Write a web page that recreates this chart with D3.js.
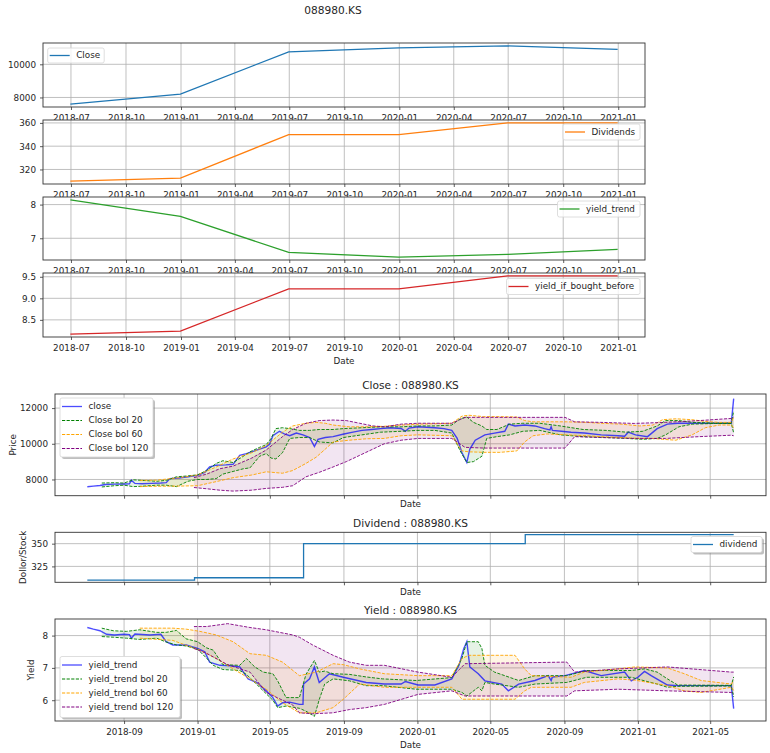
<!DOCTYPE html>
<html>
<head>
<meta charset="utf-8">
<script src="https://cdn.jsdelivr.net/npm/d3@7"></script>
<style>
  body { margin: 0; background: #fff; }
  svg text { font-family: "DejaVu Sans", sans-serif; fill: #262626; }
</style>
</head>
<body>
<div class="chart"></div>
<script>
// data
let ticker = "088980.KS";

// half-year summary (top four panels)
let summaryDates = ["2018-06-30", "2018-12-31", "2019-06-30", "2019-12-31", "2020-06-30", "2020-12-31"];
let summaryClose = [7600, 8200, 10750, 10990, 11110, 10900];
let summaryDividends = [310, 312.5, 350, 350, 360, 360];
let summaryYieldTrend = [8.14, 7.65, 6.58, 6.44, 6.52, 6.67];
let summaryYieldBefore = [8.17, 8.24, 9.22, 9.22, 9.52, 9.52];

// tick labels
let summaryCloseTicks = [8000, 10000];
let summaryDividendTicks = [320, 340, 360];
let summaryYieldTicks = [7, 8];
let summaryBeforeTicks = [8.5, 9.0, 9.5];
let closeTicks = [8000, 10000, 12000];
let dividendTicks = [325, 350];
let yieldTicks = [6, 7, 8];

// daily close (sampled)
let closeSeries = [
  ["2018-07-02",7590],["2018-07-12",7630],["2018-07-23",7660],["2018-08-01",7720],["2018-08-16",7740],
  ["2018-09-01",7750],["2018-09-10",7760],["2018-09-13",7960],["2018-09-19",7780],["2018-10-01",7760],
  ["2018-10-16",7780],["2018-11-01",7800],["2018-11-10",7820],["2018-11-16",8050],["2018-12-01",8080],
  ["2018-12-16",8150],["2019-01-01",8230],["2019-01-13",8400],["2019-01-21",8700],["2019-02-01",8800],
  ["2019-02-17",8820],["2019-03-01",8850],["2019-03-12",9350],["2019-03-23",9450],["2019-04-01",9550],
  ["2019-04-14",9700],["2019-04-25",9830],["2019-05-01",10000],["2019-05-06",10450],["2019-05-17",10700],
  ["2019-05-25",10550],["2019-06-03",10450],["2019-06-14",10600],["2019-06-25",10500],["2019-07-06",10350],
  ["2019-07-14",9850],["2019-07-20",10250],["2019-08-01",10350],["2019-08-14",10400],["2019-09-01",10550],
  ["2019-09-16",10650],["2019-10-01",10750],["2019-10-17",10800],["2019-11-01",10850],["2019-11-17",10900],
  ["2019-12-05",10860],["2019-12-12",10700],["2019-12-18",10880],["2020-01-02",10950],["2020-01-30",10900],
  ["2020-02-14",10850],["2020-02-27",10750],["2020-03-07",10300],["2020-03-15",9500],["2020-03-23",8950],
  ["2020-03-28",9700],["2020-04-06",10200],["2020-04-22",10500],["2020-05-08",10600],["2020-05-25",10700],
  ["2020-05-31",11100],["2020-06-11",11000],["2020-06-27",11050],["2020-07-14",11000],["2020-07-30",10850],
  ["2020-08-08",10780],["2020-08-10",10950],["2020-08-12",10750],["2020-08-27",10700],["2020-09-12",10650],
  ["2020-10-04",10600],["2020-11-01",10500],["2020-11-29",10450],["2020-12-10",10420],["2020-12-16",10650],
  ["2020-12-28",10500],["2021-01-17",10400],["2021-02-02",10850],["2021-02-19",11100],["2021-03-08",11150],
  ["2021-04-16",11150],["2021-06-05",11150],["2021-06-09",12530]
];

// bollinger bands of close: [date, upper, lower]
let closeBol20 = [
  ["2018-07-26",7800,7580],["2018-08-16",7820,7650],["2018-09-01",7800,7680],["2018-09-16",7980,7600],
  ["2018-10-01",7950,7620],["2018-10-25",7900,7680],["2018-11-10",7950,7680],["2018-11-27",8150,7600],
  ["2018-12-16",8200,7900],["2019-01-01",8260,8000],["2019-01-16",8500,8000],["2019-02-01",8900,8050],
  ["2019-02-12",9050,8300],["2019-03-01",8950,8450],["2019-03-18",9300,8600],["2019-03-29",9550,8650],
  ["2019-04-14",9800,9300],["2019-04-25",9950,9450],["2019-05-03",10300,9200],["2019-05-11",10850,9150],
  ["2019-05-22",10900,9500],["2019-06-03",10850,10300],["2019-06-19",10750,10350],["2019-07-06",10750,10350],
  ["2019-07-22",10800,10100],["2019-08-14",10800,10050],["2019-08-31",10850,10350],["2019-10-01",10900,10500],
  ["2019-11-01",10950,10650],["2019-12-05",10950,10700],["2020-01-02",11000,10750],["2020-01-30",11000,10750],
  ["2020-02-27",11050,10600],["2020-03-12",11400,9600],["2020-03-23",11500,8950],["2020-04-03",11200,9000],
  ["2020-04-17",11000,9300],["2020-04-25",10800,10300],["2020-05-12",10800,10400],["2020-06-02",11100,10500],
  ["2020-06-24",11150,10700],["2020-07-22",11150,10750],["2020-08-25",11000,10500],["2020-10-02",10800,10400],
  ["2020-11-09",10750,10350],["2020-12-13",10650,10300],["2021-01-09",10700,10250],["2021-02-02",11000,10300],
  ["2021-02-16",11300,10500],["2021-03-10",11300,10950],["2021-04-01",11200,11100],["2021-05-10",11160,11140],
  ["2021-06-05",11160,11140],["2021-06-09",11830,10610]
];
let closeBol60 = [
  ["2018-09-27",7950,7600],["2018-10-25",7960,7620],["2018-12-01",8100,7630],["2019-01-01",8250,7650],
  ["2019-02-01",8700,7880],["2019-03-01",9150,8100],["2019-04-01",9500,8250],["2019-04-25",9900,8430],
  ["2019-05-22",10650,8350],["2019-06-08",11000,8500],["2019-06-30",11150,8900],["2019-07-17",11200,9250],
  ["2019-08-01",11150,9700],["2019-08-14",11050,10100],["2019-09-10",10950,10200],["2019-10-08",10950,10280],
  ["2019-11-07",10980,10300],["2019-12-05",11050,10450],["2020-01-02",11100,10500],["2020-02-27",11150,10450],
  ["2020-03-15",11550,9600],["2020-03-26",11600,9550],["2020-04-20",11520,9520],["2020-05-17",11520,9520],
  ["2020-06-14",11500,9600],["2020-06-27",11300,10100],["2020-07-11",11230,10450],["2020-08-03",11230,10550],
  ["2020-09-05",11230,10500],["2020-10-08",11200,10450],["2020-10-31",11150,10400],["2020-12-04",11100,10350],
  ["2021-01-04",11000,10300],["2021-01-26",11050,10300],["2021-02-11",11350,10250],["2021-03-05",11400,10200],
  ["2021-04-01",11350,10500],["2021-04-23",11250,10900],["2021-05-16",11200,11050],["2021-06-05",11200,11050],
  ["2021-06-09",11500,10900]
];
let closeBol120 = [
  ["2018-12-26",8100,7550],["2019-01-16",8300,7480],["2019-02-07",8600,7400],["2019-03-01",8750,7350],
  ["2019-04-01",9200,7400],["2019-04-25",9650,7500],["2019-05-22",10400,7560],["2019-06-08",10800,7650],
  ["2019-06-30",11150,8150],["2019-07-22",11300,8400],["2019-08-14",11330,8700],["2019-09-05",11300,9000],
  ["2019-09-27",11150,9350],["2019-10-19",11000,9700],["2019-11-07",10950,10000],["2019-12-05",11100,10200],
  ["2020-01-02",11150,10300],["2020-02-27",11150,10300],["2020-03-20",11480,9800],["2020-04-20",11480,9760],
  ["2020-06-14",11480,9760],["2020-09-02",11480,9760],["2020-09-18",11230,10400],["2020-10-31",11200,10350],
  ["2020-12-26",11140,10300],["2021-02-16",11200,10300],["2021-04-13",11300,10400],["2021-06-05",11420,10480],
  ["2021-06-09",11500,10450]
];

// dividend steps
let dividendSteps = [["2018-07-02",310],["2018-12-27",312.5],["2019-06-26",350],["2020-06-28",360],["2021-06-09",360]];

// daily yield trend (sampled)
let yieldSeries = [
  ["2018-07-02",8.25],["2018-07-12",8.20],["2018-07-23",8.15],["2018-08-03",8.04],["2018-08-16",8.02],
  ["2018-09-01",8.04],["2018-09-10",8.03],["2018-09-13",7.92],["2018-09-19",8.05],["2018-10-14",8.02],
  ["2018-11-01",8.04],["2018-11-10",7.81],["2018-11-21",7.71],["2018-12-13",7.71],["2019-01-01",7.60],
  ["2019-01-13",7.50],["2019-01-21",7.18],["2019-02-07",7.08],["2019-03-01",7.06],["2019-03-12",7.03],
  ["2019-03-26",6.66],["2019-04-09",6.55],["2019-04-25",6.29],["2019-05-06",6.08],["2019-05-14",5.82],
  ["2019-05-22",5.92],["2019-06-03",5.94],["2019-06-19",5.87],["2019-06-25",5.87],["2019-06-26",6.50],
  ["2019-07-06",6.66],["2019-07-14",7.03],["2019-07-22",6.55],["2019-08-08",6.82],["2019-08-31",6.71],
  ["2019-10-08",6.55],["2019-11-07",6.50],["2019-12-05",6.50],["2019-12-12",6.58],["2020-01-02",6.47],
  ["2020-01-30",6.47],["2020-02-27",6.66],["2020-03-10",7.08],["2020-03-18",7.60],["2020-03-23",7.81],
  ["2020-03-28",7.03],["2020-04-11",6.82],["2020-04-22",6.60],["2020-05-20",6.50],["2020-05-31",6.29],
  ["2020-06-17",6.50],["2020-07-14",6.61],["2020-08-05",6.76],["2020-08-10",6.61],["2020-08-12",6.72],
  ["2020-09-02",6.76],["2020-09-24",6.87],["2020-10-04",6.92],["2020-11-01",6.76],["2020-12-10",6.87],
  ["2020-12-21",6.60],["2021-01-01",6.71],["2021-01-12",6.89],["2021-01-23",6.76],["2021-02-19",6.47],
  ["2021-03-08",6.45],["2021-06-05",6.45],["2021-06-09",5.74]
];

// bollinger bands of yield: [date, upper, lower]
let yieldBol20 = [
  ["2018-07-26",8.23,7.97],["2018-08-14",8.15,7.95],["2018-09-05",8.13,7.92],["2018-09-27",8.18,7.88],
  ["2018-10-25",8.10,7.92],["2018-11-10",8.10,7.80],["2018-11-27",8.16,7.71],["2018-12-13",7.90,7.68],
  ["2019-01-01",7.81,7.58],["2019-01-16",7.62,7.30],["2019-01-27",7.55,7.08],["2019-02-12",7.10,6.95],
  ["2019-03-12",7.08,6.92],["2019-03-23",7.29,6.80],["2019-04-06",7.03,6.55],["2019-04-20",6.87,6.29],
  ["2019-05-06",6.82,6.00],["2019-05-14",6.60,5.77],["2019-05-28",6.08,5.82],["2019-06-19",6.08,5.75],
  ["2019-06-30",6.80,5.66],["2019-07-14",7.23,5.50],["2019-07-22",6.87,6.02],["2019-07-31",6.90,6.50],
  ["2019-08-14",6.82,6.66],["2019-09-10",6.80,6.60],["2019-10-08",6.72,6.45],["2019-11-04",6.66,6.45],
  ["2019-12-30",6.61,6.34],["2020-02-27",6.70,6.34],["2020-03-15",7.30,6.24],["2020-03-23",7.81,6.13],
  ["2020-04-11",7.81,6.40],["2020-04-17",7.60,6.29],["2020-04-22",7.08,6.55],["2020-05-08",6.87,6.50],
  ["2020-06-17",6.61,6.40],["2020-07-14",6.76,6.50],["2020-09-05",6.76,6.55],["2020-10-08",6.92,6.71],
  ["2020-12-21",6.92,6.71],["2021-01-12",6.97,6.60],["2021-02-02",6.87,6.50],["2021-02-19",6.66,6.40],
  ["2021-03-08",6.47,6.43],["2021-06-05",6.46,6.44],["2021-06-09",6.72,6.10]
];
let yieldBol60 = [
  ["2018-09-27",8.23,7.92],["2018-11-21",8.23,7.85],["2018-12-13",8.20,7.70],["2019-01-05",8.13,7.55],
  ["2019-02-01",8.02,7.29],["2019-03-01",7.81,6.97],["2019-03-29",7.44,6.66],["2019-04-25",7.39,6.34],
  ["2019-05-22",7.18,5.92],["2019-06-19",6.76,5.61],["2019-07-17",6.87,5.61],["2019-08-14",7.13,5.77],
  ["2019-08-31",7.10,6.03],["2019-09-27",6.97,6.50],["2019-11-07",6.82,6.40],["2020-01-02",6.76,6.40],
  ["2020-02-27",6.76,6.40],["2020-03-15",7.29,6.03],["2020-03-26",7.39,6.03],["2020-06-11",7.39,6.03],
  ["2020-06-27",6.97,6.29],["2020-07-08",6.76,6.40],["2020-09-12",6.71,6.40],["2020-10-04",6.87,6.55],
  ["2020-11-29",6.97,6.66],["2020-12-27",7.03,6.62],["2021-02-19",7.00,6.45],["2021-03-19",6.82,6.29],
  ["2021-04-16",6.61,6.24],["2021-06-05",6.50,6.40],["2021-06-09",6.60,6.30]
];
let yieldBol120 = [
  ["2018-12-26",8.28,7.60],["2019-01-16",8.28,7.45],["2019-02-20",8.37,7.10],["2019-03-29",8.25,6.87],
  ["2019-04-25",8.18,6.24],["2019-06-08",8.02,5.85],["2019-06-19",7.95,5.61],["2019-07-11",7.71,5.58],
  ["2019-08-14",7.39,5.61],["2019-09-10",7.18,5.71],["2019-10-08",7.08,5.77],["2019-11-07",7.08,5.87],
  ["2020-01-02",6.87,6.18],["2020-02-27",6.71,6.29],["2020-03-20",7.13,6.13],["2020-09-05",7.18,6.13],
  ["2020-09-18",6.87,6.29],["2020-11-29",6.97,6.34],["2021-02-19",7.03,6.29],["2021-06-05",6.87,6.24],
  ["2021-06-09",6.87,6.20]
];

let svgWidth = 770;
let svgHeight = 753;

let svg = d3.select(".chart")
  .append("svg")
  .attr("width", svgWidth)
  .attr("height", svgHeight);

let parseDate = d3.timeParse("%Y-%m-%d");
let fmtMonth = d3.timeFormat("%Y-%m");
let fontSize = "8.8px";

// Step 1: Parse data
// ==============================
let toRows = arr => arr.map(d => ({date: parseDate(d[0]), value: d[1]}));
let toBand = arr => arr.map(d => ({date: parseDate(d[0]), upper: d[1], lower: d[2]}));

// matplotlib style 5% margins
function pad(ext) {
  let p = (ext[1] - ext[0]) * 0.05;
  return [ext[0] - p, ext[1] + p];
}
function padDates(ext) {
  let p = (ext[1] - ext[0]) * 0.05;
  return [new Date(+ext[0] - p), new Date(+ext[1] + p)];
}

// Step 2: Helpers for frame, grid, axes, legend
// ==============================
function drawBack(g, x, y, xTicks, yTicks) {
  let [l, r] = x.range();
  let [b, t] = y.range();
  g.append("rect")
    .attr("x", l).attr("y", t)
    .attr("width", r - l).attr("height", b - t)
    .attr("fill", "#fff");
  g.selectAll(".gx").data(xTicks).enter().append("line")
    .attr("class", "gx")
    .attr("x1", d => x(d)).attr("x2", d => x(d))
    .attr("y1", t).attr("y2", b);
  g.selectAll(".gy").data(yTicks).enter().append("line")
    .attr("class", "gy")
    .attr("x1", l).attr("x2", r)
    .attr("y1", d => y(d)).attr("y2", d => y(d));
  g.selectAll(".gx, .gy")
    .attr("stroke", "#b0b0b0")
    .attr("stroke-width", 0.8);
}

function drawAxes(g, x, y, xTicks, yTicks, showX, yFmt) {
  let [l, r] = x.range();
  let [b, t] = y.range();
  let bottomAxis = d3.axisBottom(x)
    .tickValues(xTicks)
    .tickSize(3).tickPadding(5)
    .tickFormat(showX ? fmtMonth : "");
  let leftAxis = d3.axisLeft(y)
    .tickValues(yTicks)
    .tickSize(3).tickPadding(4)
    .tickFormat(yFmt);
  let ax = g.append("g").attr("transform", `translate(0, ${b})`).call(bottomAxis);
  let ay = g.append("g").attr("transform", `translate(${l}, 0)`).call(leftAxis);
  [ax, ay].forEach(a => {
    a.select(".domain").remove();
    a.attr("font-family", null).attr("font-size", null);
    a.selectAll("line").attr("stroke", "#333").attr("stroke-width", 0.8);
    a.selectAll("text").attr("font-size", fontSize).attr("fill", "#262626");
  });
  g.append("rect")
    .attr("x", l).attr("y", t)
    .attr("width", r - l).attr("height", b - t)
    .attr("fill", "none")
    .attr("stroke", "#333")
    .attr("stroke-width", 0.9);
}

function drawLegend(g, box, items, shadow) {
  let [bx, by, bw, bh] = box;
  if (shadow) {
    g.append("rect")
      .attr("x", bx + 2).attr("y", by + 2)
      .attr("width", bw).attr("height", bh)
      .attr("rx", 2)
      .attr("fill", "#808080").attr("opacity", 0.5);
  }
  g.append("rect")
    .attr("x", bx).attr("y", by)
    .attr("width", bw).attr("height", bh)
    .attr("rx", 2)
    .attr("fill", "#fff").attr("fill-opacity", shadow ? 1 : 0.8)
    .attr("stroke", "#d6d6d6").attr("stroke-width", 0.8);
  let step = items.length > 1 ? 14 : 0;
  let first = items.length > 1 ? by + 8.5 : by + bh / 2;
  items.forEach((it, i) => {
    let cy = first + i * step;
    g.append("line")
      .attr("x1", bx + 2).attr("x2", bx + 22)
      .attr("y1", cy).attr("y2", cy)
      .attr("stroke", it.color)
      .attr("stroke-width", it.width || 1.3)
      .attr("stroke-opacity", it.opacity || 1)
      .attr("stroke-dasharray", it.dash || null);
    g.append("text")
      .attr("x", bx + 28.5).attr("y", cy)
      .attr("dy", "0.33em")
      .attr("font-size", fontSize)
      .text(it.label);
  });
}

// Step 3: Top summary panels
// ==============================
svg.append("text")
  .attr("x", 333).attr("y", 14)
  .attr("text-anchor", "middle")
  .attr("font-size", "10.6px")
  .text(ticker);

let summaryParsed = summaryDates.map(parseDate);
let topX = d3.scaleTime()
  .domain(padDates(d3.extent(summaryParsed)))
  .range([43, 645]);
let topXTicks = d3.timeMonth.every(3).range(d3.timeMonth.ceil(topX.domain()[0]), topX.domain()[1]);

let topPanels = [
  {values: summaryClose, ticks: summaryCloseTicks, fmt: d3.format("d"), color: "#1f77b4", label: "Close",
   top: 43, bottom: 107, legend: [47.7, 48, 56.5, 15]},
  {values: summaryDividends, ticks: summaryDividendTicks, fmt: d3.format("d"), color: "#ff7f0e", label: "Dividends",
   top: 120, bottom: 184, legend: [563, 124, 77, 16]},
  {values: summaryYieldTrend, ticks: summaryYieldTicks, fmt: d3.format("d"), color: "#2ca02c", label: "yield_trend",
   top: 197, bottom: 260, legend: [557.5, 201, 82.5, 16]},
  {values: summaryYieldBefore, ticks: summaryBeforeTicks, fmt: d3.format(".1f"), color: "#d62728", label: "yield_if_bought_before",
   top: 273, bottom: 337, legend: [506.5, 278.5, 133.5, 16]}
];

topPanels.forEach(p => {
  let y = d3.scaleLinear()
    .domain(pad(d3.extent(p.values)))
    .range([p.bottom, p.top]);
  let g = svg.append("g");
  drawBack(g, topX, y, topXTicks, p.ticks);
  g.append("path")
    .datum(summaryParsed.map((d, i) => ({date: d, value: p.values[i]})))
    .attr("d", d3.line().x(d => topX(d.date)).y(d => y(d.value)))
    .attr("fill", "none")
    .attr("stroke", p.color)
    .attr("stroke-width", 1.3);
  drawAxes(g, topX, y, topXTicks, p.ticks, true, p.fmt);
  drawLegend(g, p.legend, [{label: p.label, color: p.color}], false);
});

svg.append("text")
  .attr("x", 344).attr("y", 364)
  .attr("text-anchor", "middle")
  .attr("font-size", fontSize)
  .text("Date");

// Step 4: Lower detailed panels
// ==============================
let closeRows = toRows(closeSeries);
let yieldRows = toRows(yieldSeries);
let dividendRows = toRows(dividendSteps);

let lowX = d3.scaleTime()
  .domain(padDates(d3.extent(closeRows, d => d.date)))
  .range([55, 766]);
let lowXTicks = d3.timeMonth.every(4).range(d3.timeMonth.ceil(lowX.domain()[0]), lowX.domain()[1]);

let bandColors = ["green", "orange", "purple"];
let bandWindows = [20, 60, 120];

function bollingerPanel(cfg) {
  let bands = cfg.bands.map(toBand);
  let allValues = cfg.rows.map(d => d.value);
  bands.forEach(b => b.forEach(d => { allValues.push(d.upper, d.lower); }));
  let y = d3.scaleLinear()
    .domain(pad(d3.extent(allValues)))
    .range([cfg.bottom, cfg.top]);
  let g = svg.append("g");
  drawBack(g, lowX, y, lowXTicks, cfg.ticks);

  bands.forEach((b, i) => {
    g.append("path")
      .datum(b)
      .attr("d", d3.area().x(d => lowX(d.date)).y0(d => y(d.lower)).y1(d => y(d.upper)))
      .attr("fill", bandColors[i])
      .attr("fill-opacity", 0.1);
  });
  g.append("path")
    .datum(cfg.rows)
    .attr("d", d3.line().x(d => lowX(d.date)).y(d => y(d.value)))
    .attr("fill", "none")
    .attr("stroke", "blue")
    .attr("stroke-opacity", 0.7)
    .attr("stroke-width", 1.4);
  bands.forEach((b, i) => {
    ["upper", "lower"].forEach(k => {
      g.append("path")
        .datum(b)
        .attr("d", d3.line().x(d => lowX(d.date)).y(d => y(d[k])))
        .attr("fill", "none")
        .attr("stroke", bandColors[i])
        .attr("stroke-width", 0.9)
        .attr("stroke-dasharray", "3.2,1.4");
    });
  });

  drawAxes(g, lowX, y, lowXTicks, cfg.ticks, cfg.showX, d3.format("d"));

  let items = [{label: cfg.name, color: "blue", opacity: 0.7}];
  bandWindows.forEach((w, i) => items.push({label: `${cfg.prefix} bol ${w}`, color: bandColors[i], dash: "3.2,1.4", width: 1}));
  drawLegend(g, cfg.legend, items, true);

  g.append("text")
    .attr("x", 410.5).attr("y", cfg.top - 5.5)
    .attr("text-anchor", "middle")
    .attr("font-size", "10.6px")
    .text(cfg.title);
  g.append("text")
    .attr("transform", `translate(${cfg.ylabelX}, ${(cfg.top + cfg.bottom) / 2}) rotate(-90)`)
    .attr("text-anchor", "middle")
    .attr("font-size", fontSize)
    .text(cfg.ylabel);
  g.append("text")
    .attr("x", 410.5).attr("y", cfg.dateY)
    .attr("text-anchor", "middle")
    .attr("font-size", fontSize)
    .text("Date");
}

bollingerPanel({
  rows: closeRows, bands: [closeBol20, closeBol60, closeBol120], ticks: closeTicks,
  top: 394, bottom: 495.7, showX: false,
  name: "close", prefix: "Close", legend: [60, 398, 93, 59],
  title: `Close : ${ticker}`, ylabel: "Price", ylabelX: 15.5, dateY: 506.5
});

// dividend step line
let divY = d3.scaleLinear()
  .domain(pad(d3.extent(dividendRows, d => d.value)))
  .range([582.3, 532.3]);
let gd = svg.append("g");
drawBack(gd, lowX, divY, lowXTicks, dividendTicks);
gd.append("path")
  .datum(dividendRows)
  .attr("d", d3.line().curve(d3.curveStepAfter).x(d => lowX(d.date)).y(d => divY(d.value)))
  .attr("fill", "none")
  .attr("stroke", "#1f77b4")
  .attr("stroke-width", 1.3);
drawAxes(gd, lowX, divY, lowXTicks, dividendTicks, false, d3.format("d"));
drawLegend(gd, [691, 536.5, 71, 16], [{label: "dividend", color: "#1f77b4"}], true);
gd.append("text")
  .attr("x", 410.5).attr("y", 532.3 - 5.5)
  .attr("text-anchor", "middle")
  .attr("font-size", "10.6px")
  .text(`Dividend : ${ticker}`);
gd.append("text")
  .attr("transform", `translate(26, 557.3) rotate(-90)`)
  .attr("text-anchor", "middle")
  .attr("font-size", fontSize)
  .text("Dollor/Stock");
gd.append("text")
  .attr("x", 410.5).attr("y", 594.5)
  .attr("text-anchor", "middle")
  .attr("font-size", fontSize)
  .text("Date");

bollingerPanel({
  rows: yieldRows, bands: [yieldBol20, yieldBol60, yieldBol120], ticks: yieldTicks,
  top: 619, bottom: 721, showX: true,
  name: "yield_trend", prefix: "yield_trend", legend: [60, 656.5, 120, 61],
  title: `Yield : ${ticker}`, ylabel: "Yield", ylabelX: 34, dateY: 748
});
</script>
</body>
</html>
